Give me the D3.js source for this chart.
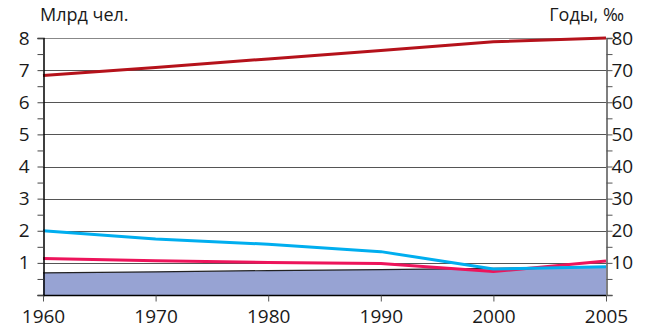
<!DOCTYPE html>
<html><head><meta charset="utf-8">
<script src="https://cdn.jsdelivr.net/npm/d3@7"></script>
<style>body{margin:0;background:#fff}svg{display:block}text{font-family:"Open Sans",sans-serif;fill:#1a1a1a}</style>
</head><body><svg id="c" width="650" height="335"></svg>
<script>
const years = ["1960","1970","1980","1990","2000","2005"];
const popBillions = [0.69, 0.72, 0.76, 0.79, 0.83, 0.87];
const lifeExp = [68.3, 70.8, 73.5, 76.1, 78.8, 80.0];
const birthRate = [20.0, 17.4, 15.8, 13.5, 8.1, 8.8];
const deathRate = [11.4, 10.7, 10.1, 9.8, 7.3, 10.6];
const leftTicks = [1,2,3,4,5,6,7,8];
const rightTicks = [10,20,30,40,50,60,70,80];

const svg = d3.select("#c");
const L = 43, R = 606, T = 38, B = 295;
const x = d3.scalePoint().domain(years).range([L, R]);
const yL = d3.scaleLinear().domain([0, 8]).range([B, T]);
const yR = d3.scaleLinear().domain([0, 80]).range([B, T]);

// gridlines
svg.append("g").selectAll("line").data(leftTicks).join("line")
  .attr("x1", L).attr("x2", R)
  .attr("y1", d => Math.round(yL(d)) + 0.5).attr("y2", d => Math.round(yL(d)) + 0.5)
  .attr("stroke", d => d === 8 ? "#888" : "#555").attr("stroke-width", 1);

// area
const area = d3.area().x((d, i) => x(years[i])).y0(B).y1(d => yL(d));
svg.append("path").datum(popBillions).attr("d", area).attr("fill", "#97a3d3");
svg.append("path").datum(popBillions)
  .attr("d", d3.line().x((d, i) => x(years[i])).y(d => yL(d)))
  .attr("fill", "none").attr("stroke", "#222").attr("stroke-width", 1.2);

// lines
function drawLine(data, scale, color) {
  svg.append("path").datum(data)
    .attr("d", d3.line().x((d, i) => x(years[i])).y(d => scale(d)))
    .attr("fill", "none").attr("stroke", color).attr("stroke-width", 3)
    .attr("stroke-linejoin", "round");
}
drawLine(lifeExp, yR, "#b5121b");
drawLine(deathRate, yR, "#ed145b");
drawLine(birthRate, yR, "#00aeef");

// left axis
const leftAxis = d3.axisLeft(yL).tickValues(d3.range(0, 8.01, 0.5)).tickSize(6)
  .tickFormat(d => (Number.isInteger(d) && d > 0) ? d : "");
const gl = svg.append("g").attr("transform", `translate(${L + 0.5},0)`).call(leftAxis);
gl.select(".domain").attr("stroke", "#000").attr("stroke-width", 1.5);
gl.selectAll(".tick line").attr("stroke", "#444");
gl.selectAll(".tick text").attr("x", -14).style("font-size", "19px").style("font-family", "'Open Sans',sans-serif").attr("fill", "#1a1a1a");

// right axis
const rightAxis = d3.axisRight(yR).tickValues(d3.range(0, 80.1, 5)).tickSize(6)
  .tickFormat(d => (d % 10 === 0 && d > 0) ? d : "");
const gr = svg.append("g").attr("transform", `translate(${R + 0.5},0)`).call(rightAxis);
gr.select(".domain").attr("stroke", "#555").attr("stroke-width", 1.5);
gr.selectAll(".tick line").attr("stroke", "#555");
gr.selectAll(".tick text").attr("x", 5).style("font-size", "19px").style("font-family", "'Open Sans',sans-serif").attr("fill", "#1a1a1a");

// bottom axis
const bottomAxis = d3.axisBottom(x).tickSize(6).tickPadding(8);
const gb = svg.append("g").attr("transform", `translate(0,${B + 0.5})`).call(bottomAxis);
gb.select(".domain").attr("stroke", "#000").attr("stroke-width", 1.5).attr("d", `M${L},0H${R}`);
gb.selectAll(".tick line").attr("stroke", "#555");
gb.selectAll(".tick text").style("font-size", "19px").style("font-family", "'Open Sans',sans-serif").attr("fill", "#1a1a1a");

// titles
svg.append("text").attr("x", 40).attr("y", 21).style("font-size", "18px").text("Млрд чел.");
svg.append("text").attr("x", 624).attr("y", 21).attr("text-anchor", "end").style("font-size", "18px").text("Годы, ‰");
</script></body></html>
